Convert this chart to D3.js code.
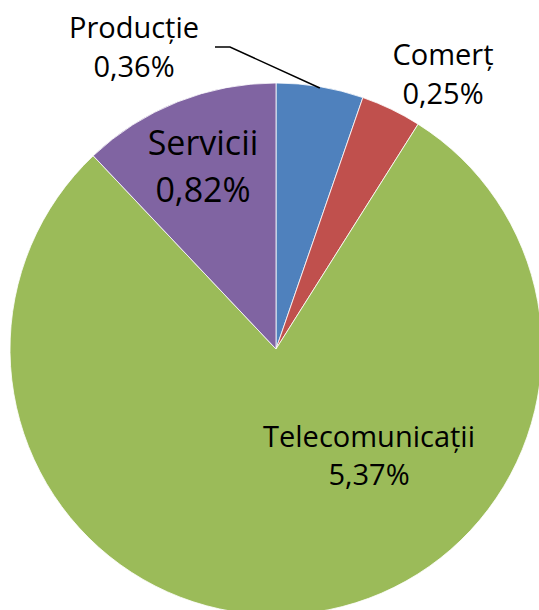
<!DOCTYPE html>
<html>
<head>
<meta charset="utf-8">
<script src="https://cdn.jsdelivr.net/npm/d3@7"></script>
<style>
  body { margin: 0; background: #fff; }
  text { font-family: "Open Sans", "Noto Sans", sans-serif; fill: #000; }
</style>
</head>
<body>
<div id="chart"></div>
<script>
// data
var categories = ["Producție", "Comerț", "Telecomunicații", "Servicii"];
var values = [0.36, 0.25, 5.37, 0.82];
var valueLabels = ["0,36%", "0,25%", "5,37%", "0,82%"];
var colors = ["#4F81BD", "#C0504D", "#9BBB59", "#8064A2"];

var width = 539, height = 610;
var cx = 276, cy = 349, radius = 266;

// label placement (offset from pie centre), font size and line gap per slice
var labelLayout = [
    { dx: -142, dy: -311, size: 29, gap: 39 },
    { dx: 167, dy: -284, size: 29, gap: 39 },
    { dx: 93, dy: 98, size: 29, gap: 38 },
    { dx: -73, dy: -194, size: 34, gap: 47 }
];

var svg = d3.select("#chart").append("svg")
    .attr("width", width)
    .attr("height", height);

var g = svg.append("g").attr("transform", "translate(" + cx + "," + cy + ")");

var pie = d3.pie().sort(null).value(function(d) { return d; });
var arcs = pie(values);
var arc = d3.arc().innerRadius(0).outerRadius(radius);

g.selectAll("path.slice")
    .data(arcs)
  .enter().append("path")
    .attr("class", "slice")
    .attr("d", arc)
    .style("fill", function(d, i) { return colors[i]; })
    .style("stroke", "#fff")
    .style("stroke-width", 0.8);

// leader line for Producție
var a0 = arcs[0];
var mid = (a0.startAngle + a0.endAngle) / 2;
var edge = [Math.sin(mid) * radius * 0.995, -Math.cos(mid) * radius * 0.995];
var lab = labelLayout[0];
g.append("polyline")
    .attr("points", [[lab.dx + 81, lab.dy + 9], [lab.dx + 96, lab.dy + 9], edge].join(" "))
    .style("fill", "none")
    .style("stroke", "#000")
    .style("stroke-width", 1.5);

var labels = g.selectAll("text.label")
    .data(arcs)
  .enter().append("text")
    .attr("class", "label")
    .attr("text-anchor", "middle")
    .attr("transform", function(d, i) {
        return "translate(" + labelLayout[i].dx + "," + labelLayout[i].dy + ")";
    })
    .style("font-size", function(d, i) { return labelLayout[i].size + "px"; });

labels.append("tspan")
    .attr("x", 0)
    .attr("y", 0)
    .text(function(d, i) { return categories[i]; });

labels.append("tspan")
    .attr("x", 0)
    .attr("dy", function(d, i) { return labelLayout[i].gap; })
    .text(function(d, i) { return valueLabels[i]; });
</script>
</body>
</html>
